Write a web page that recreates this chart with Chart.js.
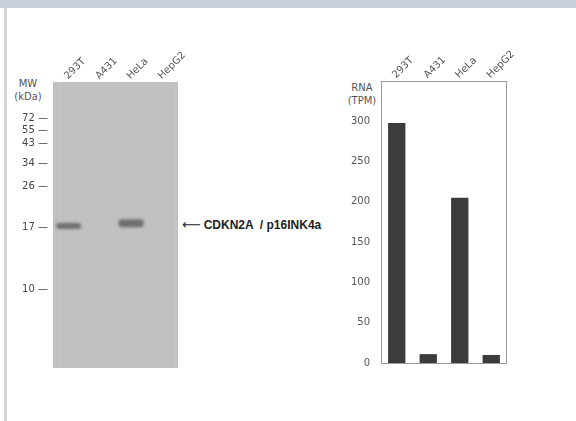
<!DOCTYPE html>
<html lang="en">
<head>
    <meta charset="UTF-8">
    <title>CDKN2A / p16INK4a</title>
    <script src="https://cdn.jsdelivr.net/npm/chart.js"></script>
    <style>
        body {
            margin: 0;
            width: 576px;
            height: 421px;
            background: #fff;
            position: relative;
            overflow: hidden;
            font-family: "DejaVu Sans", sans-serif;
        }
        .topbar { position: absolute; left: 0; top: 0; width: 576px; height: 8px; background: #c8cedb; }
        .sideline { position: absolute; left: 4px; top: 8px; width: 3px; height: 413px; background: #d6d6d6; }
        .wrap { position: absolute; }
        .title {
            position: absolute;
            font-size: 10px;
            color: #555;
            text-align: center;
            line-height: 13px;
        }
        .target {
            position: absolute;
            left: 182px;
            top: 217px;
            font-family: "Liberation Sans", Arial, sans-serif;
            font-weight: bold;
            font-size: 12px;
            color: #222;
            white-space: nowrap;
        }
        .target .arrow {
            font-family: "DejaVu Sans", sans-serif;
            font-weight: normal;
            font-size: 13px;
            margin-right: 3px;
        }
    </style>
</head>
<body>
    <div class="topbar"></div>
    <div class="sideline"></div>

    <div class="title" style="left:8px; top:77px; width:40px;">MW<br>(kDa)</div>
    <div class="title" style="left:342px; top:81px; width:40px;">RNA<br>(TPM)</div>
    <div class="target"><span class="arrow">&#x27F5;</span>CDKN2A &nbsp;/ p16INK4a</div>

    <div class="wrap" style="left:0; top:0; width:200px; height:370px;">
        <canvas id="blot"></canvas>
    </div>
    <div class="wrap" style="left:330px; top:0; width:199px; height:375px;">
        <canvas id="rna"></canvas>
    </div>

    <script>
        // lanes / cell lines
        const lanes = ['293T', 'A431', 'HeLa', 'HepG2'];

        // marker ladder: kDa and migration (% of gel height from top)
        const ladderMW = [72, 55, 43, 34, 26, 17, 10];
        const ladderPos = [12.9, 16.8, 21.3, 28.3, 36.4, 50.7, 72.4];

        // detected bands, migration range [start, end] in % of gel height
        const bands = [[49.3, 51.4], null, [48.0, 50.8], null];

        // RNA expression (TPM)
        const rnaTPM = [298, 11, 205, 10];
        const rnaTicks = [0, 50, 100, 150, 200, 250, 300];

        const labelFont = { family: 'DejaVu Sans', size: 10 };

        // keep chart area fixed: drop the extra room Chart.js keeps for rotated / edge labels
        function noPadX(s) { s.paddingLeft = 0; s.paddingRight = 0; }
        function noPadY(s) { s.paddingTop = 0; s.paddingBottom = 0; }

        const gelBackground = {
            id: 'gelBackground',
            beforeDatasetsDraw(chart) {
                const { ctx, chartArea: a } = chart;
                ctx.save();
                ctx.fillStyle = '#c1c1c1';
                ctx.fillRect(a.left, a.top, a.right - a.left, a.bottom - a.top);
                ctx.fillStyle = 'rgba(255,255,255,0.08)';
                ctx.fillRect(a.left + 6, a.top, 1.5, a.bottom - a.top);
                ctx.fillRect(a.right - 4, a.top, 1.5, a.bottom - a.top);
                ctx.restore();
            },
            beforeDatasetDraw(chart) {
                chart.ctx.save();
                chart.ctx.filter = 'blur(1.4px)';
            },
            afterDatasetDraw(chart) {
                chart.ctx.restore();
            }
        };

        const boxBorder = {
            id: 'boxBorder',
            afterDraw(chart) {
                const { ctx, chartArea: a } = chart;
                ctx.save();
                ctx.strokeStyle = '#9a9a9a';
                ctx.lineWidth = 1;
                ctx.strokeRect(a.left + 0.5, a.top + 0.5, a.right - a.left - 1, a.bottom - a.top);
                ctx.restore();
            }
        };

        const laneTicks = { minRotation: 45, maxRotation: 45, color: '#555', font: labelFont, padding: -8, labelOffset: 6 };

        new Chart(document.getElementById('blot'), {
            type: 'bar',
            data: {
                labels: lanes,
                datasets: [{
                    data: bands,
                    backgroundColor: '#6e6e6e',
                    borderRadius: 3,
                    borderSkipped: false,
                    barPercentage: 0.8,
                    categoryPercentage: 1
                }]
            },
            plugins: [gelBackground],
            options: {
                responsive: true,
                maintainAspectRatio: false,
                animation: false,
                layout: { padding: { right: 22, bottom: 2 } },
                plugins: { legend: { display: false }, tooltip: { enabled: false } },
                scales: {
                    x: {
                        position: 'top',
                        grid: { display: false },
                        border: { display: false },
                        ticks: laneTicks,
                        afterFit(s) { s.height = 82; noPadX(s); }
                    },
                    y: {
                        reverse: true,
                        min: 0,
                        max: 100,
                        grid: { display: false },
                        border: { display: false },
                        afterBuildTicks(s) { s.ticks = ladderPos.map(v => ({ value: v })); },
                        ticks: {
                            color: '#444',
                            font: labelFont,
                            padding: -3,
                            callback: (v, i) => ladderMW[i] + ' \u2014'
                        },
                        afterFit(s) { s.width = 53; noPadY(s); }
                    }
                }
            }
        });

        new Chart(document.getElementById('rna'), {
            type: 'bar',
            data: {
                labels: lanes,
                datasets: [{
                    data: rnaTPM,
                    backgroundColor: '#3c3c3c',
                    barPercentage: 0.55,
                    categoryPercentage: 1
                }]
            },
            plugins: [boxBorder],
            options: {
                responsive: true,
                maintainAspectRatio: false,
                animation: false,
                layout: { padding: { right: 22, bottom: 12 } },
                plugins: { legend: { display: false }, tooltip: { enabled: false } },
                scales: {
                    x: {
                        position: 'top',
                        grid: { display: false },
                        border: { display: false },
                        ticks: laneTicks,
                        afterFit(s) { s.height = 81; noPadX(s); }
                    },
                    y: {
                        min: 0,
                        max: 350,
                        grid: { display: false },
                        border: { display: false },
                        afterBuildTicks(s) { s.ticks = rnaTicks.map(v => ({ value: v })); },
                        ticks: { color: '#555', font: labelFont, padding: 3 },
                        afterFit(s) { s.width = 51; noPadY(s); }
                    }
                }
            }
        });
    </script>
</body>
</html>
